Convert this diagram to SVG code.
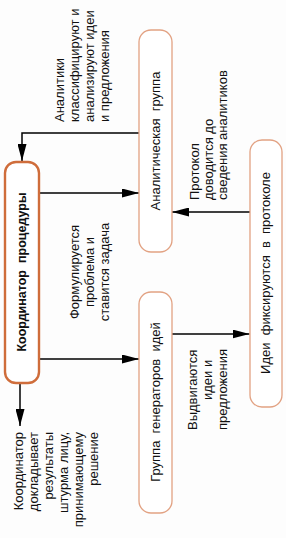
<svg xmlns="http://www.w3.org/2000/svg" width="286" height="538" viewBox="0 0 286 538">
<defs>
<style>
.box{fill:#fff;stroke:#e2a283;stroke-width:1.3}
.main{fill:#fff;stroke:#cf6d3b;stroke-width:2.4}
.lbl{font-family:"Liberation Sans",Arial,sans-serif;font-size:13px;fill:#111}
.b{font-weight:bold;font-size:12.5px}
.ln{fill:none;stroke:#000;stroke-width:1.5}
</style>
<marker id="ah" viewBox="0 0 17 9" refX="17" refY="4.5" markerWidth="17" markerHeight="9" markerUnits="userSpaceOnUse" orient="auto">
<path d="M0,0 L17,4.5 L0,9 Z" fill="#000"/>
</marker>
</defs>
<rect width="286" height="538" fill="#fdfdfd"/>
<g id="connectors">
<polyline class="ln" points="139,133 22,133 22,161" marker-end="url(#ah)"/>
<line class="ln" x1="39" y1="193" x2="139" y2="193" marker-end="url(#ah)"/>
<line class="ln" x1="39" y1="359" x2="139" y2="359" marker-end="url(#ah)"/>
<line class="ln" x1="172" y1="334" x2="249.5" y2="334" marker-end="url(#ah)"/>
<line class="ln" x1="250" y1="212" x2="172" y2="212" marker-end="url(#ah)"/>
<line class="ln" x1="20" y1="383" x2="20" y2="426" marker-end="url(#ah)"/>
</g>
<g id="coordinator">
<rect class="main" x="5" y="162" width="34" height="221" rx="11"/>
<text class="lbl b" transform="translate(26,272) rotate(-90)" text-anchor="middle">Координатор&#160; процедуры</text>
</g>
<g id="analytic">
<rect class="box" x="139" y="30" width="33" height="222" rx="12"/>
<text class="lbl" transform="translate(160,141) rotate(-90)" text-anchor="middle">Аналитическая&#160; группа</text>
</g>
<g id="generators">
<rect class="box" x="139" y="292" width="33" height="221" rx="12"/>
<text class="lbl" transform="translate(160,402) rotate(-90)" text-anchor="middle">Группа&#160; генераторов&#160; идей</text>
</g>
<g id="ideas">
<rect class="box" x="250" y="140" width="32" height="267" rx="12"/>
<text class="lbl" transform="translate(270,273) rotate(-90)" text-anchor="middle">Идеи&#160; фиксируются&#160; в&#160; протоколе</text>
</g>
<g id="labels">
<text class="lbl" transform="translate(63.5,122) rotate(-90)"><tspan x="0" y="0">Аналитики</tspan><tspan x="0" dy="15">классифицируют и</tspan><tspan x="0" dy="15">анализируют идеи</tspan><tspan x="0" dy="15">и предложения</tspan></text>
<text class="lbl" transform="translate(198.5,200) rotate(-90)"><tspan x="0" y="0">Протокол</tspan><tspan x="0" dy="14">доводится до</tspan><tspan x="0" dy="14">сведения аналитиков</tspan></text>
<text class="lbl" transform="translate(78.5,272) rotate(-90)" text-anchor="middle"><tspan x="0" y="0">Формулируется</tspan><tspan x="0" dy="15">проблема и</tspan><tspan x="0" dy="15">ставится задача</tspan></text>
<text class="lbl" transform="translate(196.5,430) rotate(-90)"><tspan x="0" y="0">Выдвигаются</tspan><tspan x="30" dy="15">идеи и</tspan><tspan x="0" dy="15">предложения</tspan></text>
<text class="lbl" transform="translate(22.5,432) rotate(-90)" text-anchor="end"><tspan x="0" y="0">Координатор</tspan><tspan x="0" dy="15">докладывает</tspan><tspan x="0" dy="15">результаты</tspan><tspan x="0" dy="15">штурма лицу,</tspan><tspan x="0" dy="15">принимающему</tspan><tspan x="0" dy="15">решение</tspan></text>
</g>
</svg>
